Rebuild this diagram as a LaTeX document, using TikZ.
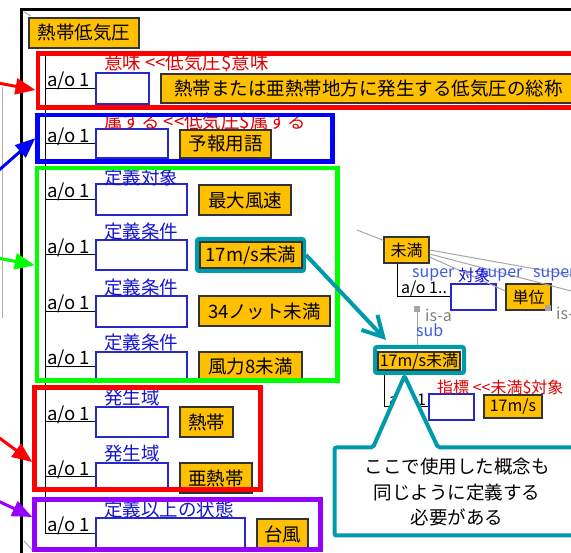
\documentclass[tikz,border=0pt]{standalone}
\usepackage{fontspec}
\setmainfont{Noto Sans CJK JP}
\usepackage{xcolor}
\usepackage{tikz}
\usetikzlibrary{arrows.meta}

\definecolor{boxorange}{RGB}{255,192,0}
\definecolor{slotblue}{RGB}{40,40,200}
\definecolor{labelblue}{RGB}{20,20,210}
\definecolor{labelred}{RGB}{225,0,0}
\definecolor{superblue}{RGB}{60,90,230}
\definecolor{hlpurple}{RGB}{150,0,255}
\definecolor{calloutteal}{RGB}{0,155,170}

\begin{document}
\begin{tikzpicture}[x=1pt,y=-1pt,
  every node/.style={font=\fontsize{18.5}{22}\selectfont},
  ltext/.style={inner sep=0pt},
  rtext/.style={inner sep=0pt,font=\fontsize{16}{18}\selectfont},
  concept/.style={draw=black!80,fill=boxorange,line width=1.2pt,inner sep=0pt},
  slot/.style={draw=slotblue,line width=1.2pt,inner sep=0pt},
  hlbox/.style={draw=#1,line width=4.5pt,inner sep=0pt},
  hlarrow/.style={-{Triangle[length=20pt,width=16pt]},line width=3pt,#1},
  tealarrow/.style={-{Straight Barb[length=20pt,width=22pt]},line width=4pt,calloutteal},
  isa/.style={gray!70,line width=1pt}]
\clip (0,0) rectangle (571,553);

\draw [line width = 3pt] (21.5,560) -- (21.5,9.5) -- (580,9.5);
\draw [gray!70,line width = 1pt] (24,12) -- (31,16);
\draw [gray!70,line width = 1pt] (24,541) -- (33,551);
\draw [gray!60,line width = 1pt] (2,87) -- (2,318);

\node[concept,minimum width=110pt,minimum height=30pt] at(84,33) (tc) {熱帯低気圧};

\coordinate (treetop) at (45,55);
\coordinate (treebot) at (45,534);
\draw [line width = 1pt] (treetop) -- (treebot);

\node[slot,minimum width=53pt,minimum height=31pt] at(122.5,88.5) (s1) {};
\node[slot,minimum width=72pt,minimum height=29pt] at(132,143.5) (s2) {};
\node[slot,minimum width=91pt,minimum height=31pt] at(141.5,199.5) (s3) {};
\node[slot,minimum width=91pt,minimum height=30pt] at(141.5,255) (s4) {};
\node[slot,minimum width=91pt,minimum height=31pt] at(141.5,311.5) (s5) {};
\node[slot,minimum width=91pt,minimum height=29pt] at(141.5,366.5) (s6) {};
\node[slot,minimum width=72pt,minimum height=30pt] at(132,422) (s7) {};
\node[slot,minimum width=72pt,minimum height=27pt] at(132,476.5) (s8) {};
\node[slot,minimum width=149pt,minimum height=32pt] at(170.5,534) (s9) {};

\foreach \s in {s1,s2,s3,s4,s5,s6,s7,s8,s9}
  \draw [line width = 1pt] (\s.west -| treetop) -- (\s.west);

\node[ltext,anchor=base west] at(47,86.5) (ao1) {a/o 1};
\node[ltext,anchor=base west] at(47,142.5) (ao2) {a/o 1};
\node[ltext,anchor=base west] at(47,197.5) (ao3) {a/o 1};
\node[ltext,anchor=base west] at(47,253.5) (ao4) {a/o 1};
\node[ltext,anchor=base west] at(47,309.5) (ao5) {a/o 1};
\node[ltext,anchor=base west] at(47,364.5) (ao6) {a/o 1};
\node[ltext,anchor=base west] at(47,420.5) (ao7) {a/o 1};
\node[ltext,anchor=base west] at(47,475.5) (ao8) {a/o 1};
\node[ltext,anchor=base west] at(47,531.5) (ao9) {a/o 1};

\node[ltext,anchor=west,text=labelred] at(104,63) (l1) {意味 <\kern0pt<低気圧\$意味};
\node[ltext,anchor=west,text=labelred] at(104,122) (l2) {属する <\kern0pt<低気圧\$属する};
\node[ltext,anchor=west,text=labelblue] at(104,177) (l3) {定義対象};
\node[ltext,anchor=west,text=labelblue] at(104,232) (l4) {定義条件};
\node[ltext,anchor=west,text=labelblue] at(104,287) (l5) {定義条件};
\node[ltext,anchor=west,text=labelblue] at(104,342) (l6) {定義条件};
\node[ltext,anchor=west,text=labelblue] at(104,398) (l7) {発生域};
\node[ltext,anchor=west,text=labelblue] at(104,454) (l8) {発生域};
\node[ltext,anchor=west,text=labelblue] at(104,509) (l9) {定義以上の状態};

\node[concept,minimum width=415pt,minimum height=29pt] at(368.5,88.5) (v1) {熱帯または亜熱帯地方に発生する低気圧の総称};
\node[concept,minimum width=91pt,minimum height=28pt] at(225.5,144) (v2) {予報用語};
\node[concept,minimum width=92pt,minimum height=30pt] at(245,200) (v3) {最大風速};
\node[draw=calloutteal,line width=4pt,rounded corners=2pt,minimum width=107pt,minimum height=32pt] at(250.5,255) (k17a) {};
\node[concept,minimum width=102pt,minimum height=26pt] at(251,255) (v4) {17m/s未満};
\node[concept,minimum width=131pt,minimum height=30pt] at(264.5,311) (v5) {34ノット未満};
\node[concept,minimum width=103pt,minimum height=30pt] at(250.5,367) (v6) {風力8未満};
\node[concept,minimum width=53pt,minimum height=30pt] at(206.5,422) (v7) {熱帯};
\node[concept,minimum width=72pt,minimum height=30pt] at(216,478) (v8) {亜熱帯};
\node[concept,minimum width=51pt,minimum height=31pt] at(282.5,534.5) (v9) {台風};

\node[hlbox=red,minimum width=562pt,minimum height=54pt] at(318.75,80.5) (hlmean) {};
\node[hlbox=blue,minimum width=295pt,minimum height=46.5pt] at(185,138.25) (hlgroup) {};
\node[hlbox=green,minimum width=300.5pt,minimum height=212.5pt] at(187.25,274.25) (hldef) {};
\node[hlbox=red,minimum width=226pt,minimum height=102pt] at(147.5,438.5) (hlarea) {};
\node[hlbox=hlpurple,minimum width=286pt,minimum height=50pt] at(177.5,524.5) (hlstate) {};

\coordinate (amean) at (-2,83);
\coordinate (agroup) at (-2,171);
\coordinate (adef) at (-2,258);
\coordinate (aarea) at (-2,437);
\coordinate (astate) at (-2,501);
\draw [hlarrow=red] (amean) -- ([yshift=-9.5pt]hlmean.west);
\draw [hlarrow=blue] (agroup) -- (hlgroup.west);
\draw [hlarrow=green] (adef) -- ([yshift=9pt]hldef.west);
\draw [hlarrow=red] (aarea) -- ([yshift=-23.5pt]hlarea.west);
\draw [hlarrow=hlpurple] (astate) -- ([yshift=7.5pt]hlstate.west);

\node[concept,rtext,minimum width=45pt,minimum height=26pt] at(406.5,250) (miman) {未満};
\node[concept,rtext,minimum width=45pt,minimum height=26pt] at(528.5,297) (tani) {単位};
\node[slot,minimum width=45pt,minimum height=26pt] at(473.5,297) (sr1) {};

\coordinate (gleft) at (357,230);
\coordinate (gright1) at (575,276);
\coordinate (gright2) at (575,292);
\draw [isa] (gleft) -- ([yshift=-4pt]miman.north west);
\draw [isa] (miman.east) -- (gright1);
\draw [isa] ([yshift=-4pt]miman.east) -- (gright2);
\draw [isa] ([yshift=-7pt]miman.east) -- ([yshift=6pt]tani.west);

\draw [line width = 1pt] ([xshift=14pt]miman.south west) |- (sr1.west);
\node[rtext,anchor=base west] at(401,294) (aor1) {a/o 1..};

\node[rtext,anchor=west,text=superblue] at(412,275) (sup1) {super};
\node[rtext,anchor=west,text=superblue] at(480,275) (sup2) {super};
\node[rtext,anchor=west,text=superblue] at(533,275) (sup3) {super};
\node[rtext,anchor=west,text=labelblue] at(458,275) (obj) {対象};

\node[draw=calloutteal,line width=4pt,rounded corners=2pt,inner sep=0pt,minimum width=89pt,minimum height=26pt] at(419.5,360) (k17b) {};
\node[concept,rtext,minimum width=82pt,minimum height=18pt] at(419,361) (v17b) {17m/s未満};

\node[fill=gray!70,inner sep=0pt,minimum size=6pt] at(417,309) (sq1) {};
\node[fill=gray!70,inner sep=0pt,minimum size=6pt] at(548,308) (sq2) {};
\draw [isa] (sq1) -- (sq1 |- k17b.north);
\node[rtext,anchor=west,text=gray] at(425,315) (isa1) {is-a};
\node[rtext,anchor=west,text=gray] at(556,313) (isa2) {is-a};
\node[rtext,anchor=west,text=superblue] at(416,330) (sub1) {sub};

\node[slot,minimum width=45pt,minimum height=26pt] at(451.5,407) (sr2) {};
\draw [line width = 1pt] ([xshift=11pt]k17b.south west) |- (sr2.west);
\node[rtext,anchor=base west] at(389,406) (aor2) {a/o 1};
\node[rtext,anchor=west,text=labelred] at(437,388) (lr2) {指標 <\kern0pt<未満\$対象};
\node[concept,rtext,minimum width=58pt,minimum height=23pt] at(513,406.5) (vr2) {17m/s};

\draw [tealarrow] (k17a.east) -- ([shift={(13pt,5pt)}]k17b.north west);

\coordinate (tip) at ([xshift=-15pt,yshift=-1pt]k17b.south);
\draw [calloutteal,line width = 4pt,fill=white,rounded corners=2pt] (600,447.5) -- (438,447.5) -- (tip) -- (373,447.5) -- (334.5,447.5) -- (334.5,535.5) -- (600,535.5);
\node[align=center,font=\fontsize{18.5}{25.5}\selectfont] at(457,492) (note) {ここで使用した概念も\\同じように定義する\\必要がある};
\end{tikzpicture}
\end{document}
